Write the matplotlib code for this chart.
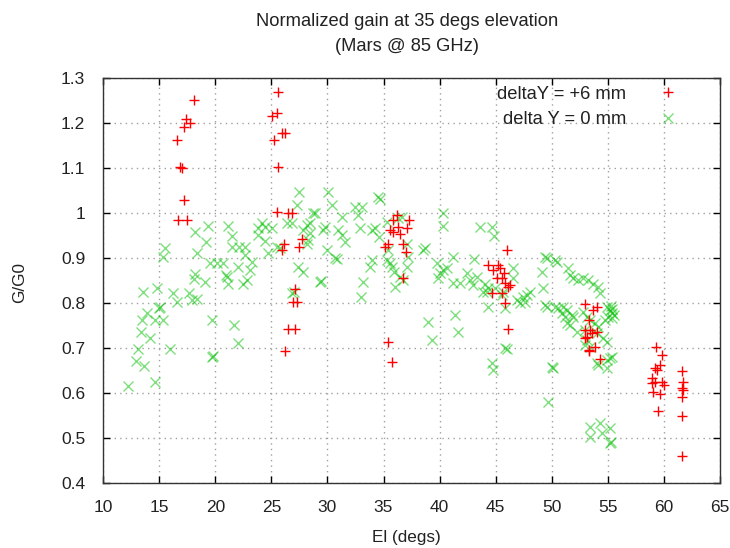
import matplotlib
matplotlib.use("Agg")
import matplotlib.pyplot as plt
from matplotlib.ticker import FuncFormatter, MultipleLocator

plt.rcParams['font.family'] = ['Liberation Sans', 'DejaVu Sans']

# deltaY = +6 mm
el_6mm = [18.07, 17.39, 17.74, 17.24, 16.61, 16.85, 17.0, 17.18, 16.7, 17.45,
          25.57, 25.48, 25.09, 25.92, 26.22, 25.27, 25.57, 25.48, 26.5, 26.8,
          27.7, 26.15, 25.92, 27.47, 27.11, 26.96, 27.32, 26.5, 27.1, 26.22,
          36.18, 35.88, 35.58, 35.88, 36.33, 36.48, 37.07, 37.31, 35.14, 35.43,
          36.77, 37.0, 36.77, 35.43, 35.74,
          46.0, 44.36, 44.8, 45.25, 45.4, 45.7, 45.55, 45.1, 45.84, 46.29,
          46.14, 44.66, 45.55, 45.84, 46.14,
          52.98, 54.02, 53.72, 53.28, 52.98, 53.42, 53.13, 54.02, 53.57, 52.98,
          53.28, 53.87, 53.28, 54.32,
          59.32, 59.82, 59.22, 59.37, 59.67, 58.93, 59.22, 59.82, 59.97, 58.93,
          59.07, 59.67, 59.52,
          61.6, 61.75, 61.6, 61.75, 61.6, 61.6, 61.6]
gain_6mm = [1.253, 1.210, 1.201, 1.192, 1.164, 1.104, 1.100, 1.030, 0.985, 0.985,
            1.269, 1.224, 1.216, 1.178, 1.178, 1.163, 1.104, 1.004, 1.0, 1.0,
            0.942, 0.933, 0.918, 0.926, 0.831, 0.804, 0.804, 0.744, 0.744, 0.695,
            0.996, 0.985, 0.963, 0.959, 0.970, 0.955, 0.967, 0.985, 0.926, 0.933,
            0.933, 0.915, 0.856, 0.715, 0.670,
            0.918, 0.885, 0.874, 0.885, 0.878, 0.867, 0.856, 0.856, 0.845, 0.841,
            0.837, 0.822, 0.822, 0.800, 0.744,
            0.798, 0.792, 0.785, 0.763, 0.741, 0.741, 0.726, 0.737, 0.733, 0.722,
            0.696, 0.704, 0.693, 0.676,
            0.704, 0.685, 0.656, 0.652, 0.663, 0.633, 0.626, 0.626, 0.619, 0.622,
            0.604, 0.598, 0.561,
            0.650, 0.626, 0.611, 0.607, 0.592, 0.550, 0.461]

# delta Y = 0 mm
el_0mm = [27.47, 27.26, 28.74, 19.32, 18.19, 19.14, 21.16, 21.46, 21.46, 22.1,
          22.65, 15.51, 15.3, 18.34, 19.53, 20.12, 20.66, 22.65, 23.25, 23.1,
          22.05, 20.95, 18.19, 24.14, 23.84, 24.43, 25.03, 23.84, 24.43, 24.73,
          25.48, 25.77, 26.37, 26.8, 28.15, 28.45, 28.3, 27.4, 27.85, 18.1,
          19.05,
          13.58, 14.77, 16.25, 16.55, 17.68, 17.9, 18.34, 21.0, 21.16, 22.5,
          22.8, 13.88, 13.43, 14.98, 15.07, 14.62, 15.36, 19.68, 21.7, 13.37,
          14.17, 22.0, 13.08, 15.96, 12.9, 13.67, 19.68, 19.82, 12.24, 14.62,
          26.8, 26.97,
          30.08, 30.38, 28.9, 28.45, 27.85, 29.79, 29.64, 28.15, 31.28, 30.97,
          31.28, 31.57, 32.46, 33.06, 32.76, 32.9, 34.54, 34.7, 33.95, 34.25,
          34.63, 29.94, 30.68, 30.83, 29.34, 29.4, 33.95, 33.8, 33.2, 32.97,
          35.29, 35.43, 35.35, 35.59, 35.74, 35.94, 36.47, 36.03, 37.07, 37.22,
          37.07, 36.62, 36.32, 36.77, 38.7, 38.55, 39.0, 39.3, 40.34, 40.29,
          39.75, 40.04, 40.34, 40.64, 39.9, 41.23, 41.38, 41.68, 41.23, 41.83,
          42.43, 42.72, 43.0, 43.32, 43.08, 43.61, 44.66, 44.89, 44.06, 44.36,
          43.91, 44.35, 44.66, 44.8, 45.84, 45.99, 46.58, 46.88, 46.58,
          44.95, 45.69, 45.84, 45.55, 44.21,
          47.47, 47.77, 48.07, 47.18, 47.63, 49.41, 49.56, 50.3, 50.45, 49.12,
          49.26, 49.41, 49.56, 50.01, 50.15, 49.71, 50.3, 50.6, 51.04, 51.35,
          50.9, 51.49, 51.64, 51.94, 52.38, 52.83, 53.27, 53.72, 54.17, 54.32,
          51.35, 51.94, 52.24, 51.64, 51.2, 51.79, 52.83, 53.13, 53.42, 52.98,
          53.87, 54.17, 54.02, 53.13, 52.98, 53.42, 54.61, 54.91, 55.21, 55.36,
          54.91, 54.02, 54.17, 54.91, 54.91, 55.21, 55.36, 55.06, 55.51, 54.76,
          55.36, 55.3, 55.4, 53.42, 54.32, 53.42, 54.47, 55.21, 55.21, 55.3]
gain_0mm = [1.047, 1.018, 1.0, 0.972, 0.958, 0.937, 0.972, 0.950, 0.926, 0.926,
            0.926, 0.924, 0.904, 0.911, 0.890, 0.890, 0.890, 0.907, 0.892, 0.875,
            0.881, 0.863, 0.865, 0.978, 0.967, 0.970, 0.967, 0.952, 0.939, 0.912,
            0.926, 0.922, 0.978, 0.978, 0.974, 0.956, 0.941, 0.881, 0.870, 0.854,
            0.848,
            0.826, 0.833, 0.822, 0.804, 0.822, 0.807, 0.809, 0.859, 0.843, 0.843,
            0.852, 0.779, 0.764, 0.789, 0.792, 0.764, 0.764, 0.764, 0.752, 0.737,
            0.723, 0.711, 0.698, 0.698, 0.672, 0.661, 0.681, 0.683, 0.616, 0.626,
            0.822, 0.826,
            1.048, 1.018, 1.001, 0.978, 0.963, 0.970, 0.963, 0.933, 0.993, 0.963,
            0.952, 0.937, 1.015, 1.015, 0.996, 0.967, 1.037, 1.033, 0.963, 0.967,
            0.948, 0.918, 0.900, 0.898, 0.848, 0.850, 0.896, 0.881, 0.848, 0.815,
            0.981, 0.918, 0.896, 0.889, 0.881, 0.870, 0.859, 0.837, 0.933, 0.904,
            0.881, 0.993, 0.989, 0.852, 0.922, 0.918, 0.758, 0.718, 1.0, 0.972,
            0.889, 0.867, 0.874, 0.878, 0.856, 0.902, 0.775, 0.737, 0.846, 0.846,
            0.867, 0.852, 0.841, 0.859, 0.898, 0.970, 0.970, 0.949, 0.844, 0.833,
            0.826, 0.792, 0.667, 0.652, 0.700, 0.698, 0.878, 0.807, 0.856,
            0.833, 0.826, 0.789, 0.818, 0.826,
            0.815, 0.819, 0.826, 0.800, 0.804, 0.904, 0.900, 0.896, 0.892, 0.870,
            0.833, 0.796, 0.792, 0.659, 0.656, 0.581, 0.792, 0.789, 0.792, 0.785,
            0.778, 0.878, 0.863, 0.856, 0.852, 0.856, 0.852, 0.844, 0.837, 0.822,
            0.756, 0.770, 0.737, 0.752, 0.770, 0.774, 0.781, 0.770, 0.763, 0.741,
            0.756, 0.748, 0.733, 0.719, 0.707, 0.704, 0.722, 0.715, 0.678, 0.681,
            0.674, 0.667, 0.663, 0.656, 0.792, 0.785, 0.778, 0.770, 0.774, 0.763,
            0.767, 0.795, 0.788, 0.526, 0.533, 0.504, 0.511, 0.522, 0.490, 0.492]

txt = '#222222'
W, H = 730, 548
fig = plt.figure(figsize=(7.3, 5.48), dpi=100)
ax = fig.add_axes([0.1414, 0.118, 0.8448, 0.739])

ax.plot(el_6mm, gain_6mm, '+', color='#ff0000', ms=7.5, mew=1.0,
        label='deltaY = +6 mm', zorder=3)
ax.plot(el_0mm, gain_0mm, 'x', color='#00c000', alpha=0.5, ms=7, mew=1.0,
        label='delta Y = 0 mm', zorder=2)

ax.set_xlim(10, 65)
ax.set_ylim(0.4, 1.3)
ax.xaxis.set_major_locator(MultipleLocator(5))
ax.yaxis.set_major_locator(MultipleLocator(0.1))
ax.yaxis.set_major_formatter(FuncFormatter(lambda v, p: '%g' % round(v, 2)))
ax.tick_params(direction='in', top=True, right=True, length=5, width=1,
               labelsize=12.5, labelcolor=txt)
ax.tick_params(axis='x', pad=12)
ax.tick_params(axis='y', pad=13)
ax.grid(True, color='#a0a0a0', linestyle=(0, (1, 3)), linewidth=1)
for s in ax.spines.values():
    s.set_color('#333333')
    s.set_linewidth(1)

# two-line title above the plot
fig.text(407 / W, 1 - 21.5 / H, 'Normalized gain at 35 degs elevation',
         ha='center', va='center', fontsize=13.2, color=txt)
fig.text(407 / W, 1 - 46.5 / H, '(Mars @ 85 GHz)',
         ha='center', va='center', fontsize=13.2, color=txt)

ax.set_xlabel('El (degs)', fontsize=12.3, color=txt)
ax.set_ylabel('G/G0', fontsize=12.3, color=txt)
ax.xaxis.set_label_coords(0.491, -0.116)
ax.yaxis.set_label_coords(-0.124, 0.495)

leg = ax.legend(loc='upper right', bbox_to_anchor=(1 - 26 / 617, 1),
                frameon=False, markerfirst=False, fontsize=13.2,
                handlelength=2.0, handletextpad=1.3, borderaxespad=0.0,
                labelspacing=0.45)
for t in leg.get_texts():
    t.set_color(txt)

fig.savefig('out.png', dpi=100)
